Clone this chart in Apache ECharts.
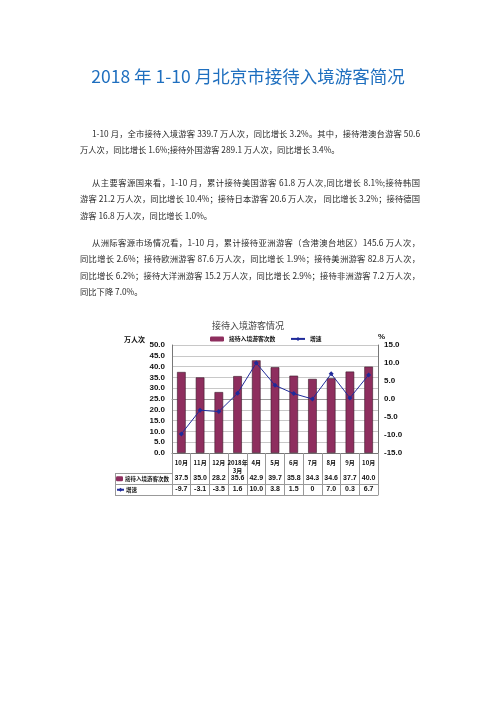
<!DOCTYPE html>
<html>
<head>
<meta charset="utf-8">
<script src="https://cdn.jsdelivr.net/npm/echarts@6/dist/echarts.min.js"></script>
<style>
html,body{margin:0;padding:0;background:#fff;width:496px;height:702px;overflow:hidden;}
#chart{position:absolute;left:0;top:0;width:496px;height:702px;}
.title{position:absolute;left:0;width:496px;top:64px;text-align:center;font-family:"Noto Sans CJK SC","Noto Sans",sans-serif;font-size:17.5px;color:#1f6fbf;line-height:24px;white-space:nowrap;}
.para{position:absolute;left:80px;width:340px;font-family:"Noto Sans CJK SC",sans-serif;font-size:8.3px;line-height:16.5px;color:#2a2a2a;pointer-events:none;}
.para div{white-space:nowrap;}
.para .j{text-align:justify;text-align-last:justify;white-space:normal;}
.para .ind{padding-left:12px;}
</style>
</head>
<body>
<div id="chart"></div>
<div class="title">2018 年 1-10 月北京市接待入境游客简况</div>
<div class="para" style="top:124.5px;">
<div class="j ind">1-10 月，全市接待入境游客 339.7 万人次，同比增长 3.2%。其中，接待港澳台游客 50.6</div>
<div>万人次，同比增长 1.6%;接待外国游客 289.1 万人次，同比增长 3.4%。</div>
</div>
<div class="para" style="top:173.5px;">
<div class="j ind">从主要客源国来看，1-10 月，累计接待美国游客 61.8 万人次,同比增长 8.1%;接待韩国</div>
<div class="j">游客 21.2 万人次，同比增长 10.4%；接待日本游客 20.6 万人次， 同比增长 3.2%；接待德国</div>
<div>游客 16.8 万人次，同比增长 1.0%。</div>
</div>
<div class="para" style="top:233.5px;">
<div class="j ind">从洲际客源市场情况看，1-10 月，累计接待亚洲游客（含港澳台地区）145.6 万人次，</div>
<div class="j">同比增长 2.6%；接待欧洲游客 87.6 万人次，同比增长 1.9%；接待美洲游客 82.8 万人次，</div>
<div class="j">同比增长 6.2%；接待大洋洲游客 15.2 万人次，同比增长 2.9%；接待非洲游客 7.2 万人次，</div>
<div>同比下降 7.0%。</div>
</div>
<script>
const categories = ['10月','11月','12月','2018年\n3月','4月','5月','6月','7月','8月','9月','10月'];
const visitors = [37.5, 35.0, 28.2, 35.6, 42.9, 39.7, 35.8, 34.3, 34.6, 37.7, 40.0];
const growth = [-9.7, -3.1, -3.5, 1.6, 10.0, 3.8, 1.5, 0, 7.0, 0.3, 6.7];
const leftTicks = {min: 0, max: 50, interval: 5};
const rightTicks = {min: -15, max: 15, interval: 5};
const barName = '接待入境游客次数';
const lineName = '增速';

const numFont = {fontFamily: '"Liberation Sans", Arial, sans-serif', fontWeight: 'bold', fontSize: 8, color: '#111'};
const cjkFont = {fontFamily: '"Noto Sans CJK SC", sans-serif', fontWeight: 'bold', fontSize: 5.8, color: '#111'};
const tableLine = {color: '#999', width: 1};
const barColor = '#8e2e5e';
const lineColor = '#1f2a9a';

const chart = echarts.init(document.getElementById('chart'), null, {renderer: 'canvas'});
const fmtGrowth = v => (v === 0 ? '0' : v.toFixed(1));
const legendBase = {itemGap: 2, textStyle: cjkFont, itemStyle: {borderWidth: 0}, padding: 0};
const tableLegend = {itemGap: 1, textStyle: Object.assign({}, cjkFont, {fontSize: 5.5, padding: [0, 0, 0, -3]}), itemStyle: {borderWidth: 0}, padding: 0};
chart.setOption({
  animation: false,
  title: {
    text: '接待入境游客情况', left: 'center', top: 316,
    textStyle: {fontFamily: '"Noto Sans CJK SC", sans-serif', fontWeight: 'normal', fontSize: 9, color: '#444'}
  },
  legend: [
    Object.assign({data: [barName], left: 210, top: 336, itemWidth: 14, itemHeight: 5}, legendBase),
    Object.assign({data: [lineName], left: 290, top: 336, itemWidth: 14, itemHeight: 5}, legendBase),
    Object.assign({data: [barName], left: 116, top: 476, itemWidth: 7, itemHeight: 5}, tableLegend),
    Object.assign({data: [lineName], left: 116, top: 487, itemWidth: 7, itemHeight: 5}, tableLegend)
  ],
  grid: {left: 172, top: 345, width: 206, height: 108},
  xAxis: [
    {
      type: 'category', data: categories, boundaryGap: true,
      axisLine: {lineStyle: {color: '#777'}},
      axisTick: {show: true, length: 42, interval: 0, lineStyle: tableLine},
      axisLabel: Object.assign({interval: 0, margin: 6, lineHeight: 8}, cjkFont, {fontSize: 6})
    },
    {
      type: 'category', data: visitors.map(v => v.toFixed(1)), position: 'bottom', offset: 20,
      axisLine: {show: true, lineStyle: tableLine}, axisTick: {show: false},
      axisLabel: Object.assign({interval: 0, margin: 2}, numFont, {fontSize: 7})
    },
    {
      type: 'category', data: growth.map(fmtGrowth), position: 'bottom', offset: 31,
      axisLine: {show: true, lineStyle: tableLine}, axisTick: {show: false},
      axisLabel: Object.assign({interval: 0, margin: 2}, numFont, {fontSize: 7})
    },
    {
      type: 'category', data: categories.map(() => ''), position: 'bottom', offset: 42,
      axisLine: {show: true, lineStyle: tableLine}, axisTick: {show: false}, axisLabel: {show: false}
    }
  ],
  yAxis: [
    {
      type: 'value', min: leftTicks.min, max: leftTicks.max, interval: leftTicks.interval,
      name: '万人次', nameLocation: 'end', nameGap: 2,
      nameTextStyle: Object.assign({}, cjkFont, {fontSize: 7, align: 'right', verticalAlign: 'bottom', padding: [0, 27, 0, 0]}),
      axisLine: {show: true, lineStyle: {color: '#777'}}, axisTick: {show: false},
      axisLabel: Object.assign({margin: 7, formatter: v => v.toFixed(1)}, numFont),
      splitLine: {show: true, lineStyle: {color: '#c8c8c8', width: 1}}
    },
    {
      type: 'value', min: rightTicks.min, max: rightTicks.max, interval: rightTicks.interval, position: 'right',
      name: '%', nameLocation: 'end', nameGap: 3,
      nameTextStyle: Object.assign({}, numFont, {align: 'left', verticalAlign: 'bottom', padding: [0, 0, 0, 0]}),
      axisLine: {show: true, lineStyle: {color: '#777'}}, axisTick: {show: false},
      axisLabel: Object.assign({margin: 6, formatter: v => v.toFixed(1)}, numFont),
      splitLine: {show: false}
    }
  ],
  graphic: [
    {type: 'line', shape: {x1: 115, y1: 473.5, x2: 172, y2: 473.5}, style: {stroke: '#999', lineWidth: 1}},
    {type: 'line', shape: {x1: 115, y1: 484.5, x2: 172, y2: 484.5}, style: {stroke: '#999', lineWidth: 1}},
    {type: 'line', shape: {x1: 115, y1: 495.5, x2: 172, y2: 495.5}, style: {stroke: '#999', lineWidth: 1}},
    {type: 'line', shape: {x1: 115.5, y1: 473, x2: 115.5, y2: 496}, style: {stroke: '#999', lineWidth: 1}}
  ],
  series: [
    {
      name: barName, type: 'bar', data: visitors, xAxisIndex: 0, yAxisIndex: 0, barWidth: '46%',
      itemStyle: {color: barColor, borderColor: '#3a1a2a', borderWidth: 0.6}
    },
    {
      name: lineName, type: 'line', data: growth, xAxisIndex: 0, yAxisIndex: 1,
      symbol: 'diamond', symbolSize: 5, showSymbol: true,
      lineStyle: {color: lineColor, width: 1}, itemStyle: {color: lineColor}
    }
  ]
});
</script>
</body>
</html>
